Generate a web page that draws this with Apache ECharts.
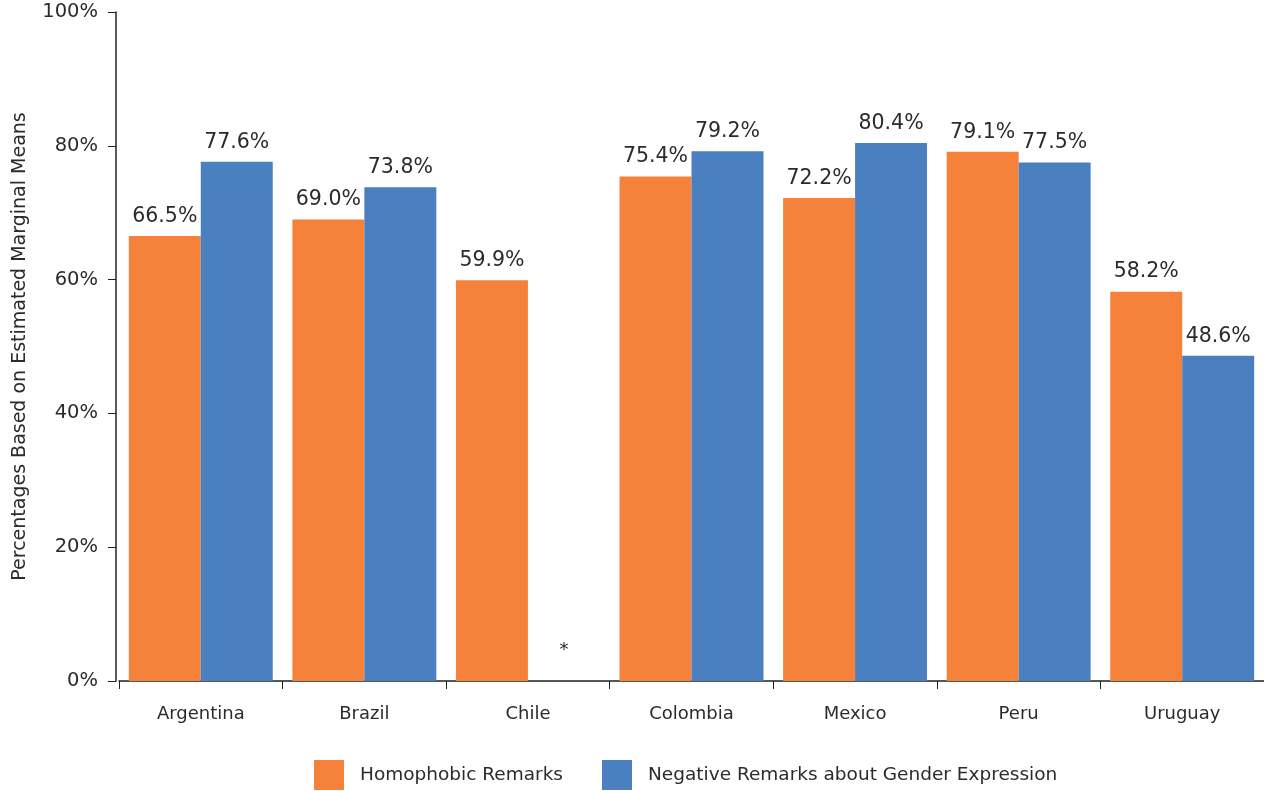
<!DOCTYPE html>
<html>
<head>
<meta charset="utf-8">
<script src="https://cdn.jsdelivr.net/npm/echarts@6/dist/echarts.min.js"></script>
<style>html,body{margin:0;padding:0;background:#fff;}#c{width:1264px;height:791px;}</style>
</head>
<body>
<div id="c"></div>
<script>
const categories = ['Argentina', 'Brazil', 'Chile', 'Colombia', 'Mexico', 'Peru', 'Uruguay'];
const homophobic = [66.5, 69.0, 59.9, 75.4, 72.2, 79.1, 58.2];
const genderExpr = [77.6, 73.8, null, 79.2, 80.4, 77.5, 48.6];
const seriesNames = ['Homophobic Remarks', 'Negative Remarks about Gender Expression'];
const yTicks = [0, 20, 40, 60, 80, 100];

const FONT = 'DejaVu Sans';
const TXT = '#2b2b2b';

const chart = echarts.init(document.getElementById('c'), null, {renderer: 'canvas'});
const lbl = {
  show: true, position: 'top', distance: 9,
  fontFamily: FONT, fontSize: 20.5, color: TXT,
  formatter: p => p.value.toFixed(1) + '%'
};
chart.setOption({
  animation: false,
  textStyle: {fontFamily: FONT},
  grid: {left: 119, right: -1, top: 12, bottom: 110, containLabel: false},
  legend: {
    top: 755, left: 309,
    itemWidth: 30, itemHeight: 30, itemGap: 39,
    icon: 'rect',
    textStyle: {fontFamily: FONT, fontSize: 18.5, color: TXT, padding: [0, 0, 0, 11]},
    data: seriesNames
  },
  xAxis: {
    type: 'category',
    data: categories,
    axisLine: {lineStyle: {color: '#222', width: 1.5}},
    axisTick: {show: true, alignWithLabel: false, length: 8, lineStyle: {color: '#222'}},
    axisLabel: {fontFamily: FONT, fontSize: 18, color: TXT, margin: 24}
  },
  yAxis: {
    type: 'value', min: 0, max: 100, interval: 20, offset: 3,
    name: 'Percentages Based on Estimated Marginal Means',
    nameLocation: 'middle', nameGap: 86,
    nameTextStyle: {fontFamily: FONT, fontSize: 19, color: TXT},
    axisLine: {show: true, lineStyle: {color: '#222', width: 1.5}},
    axisTick: {show: true, length: 8, lineStyle: {color: '#222'}},
    splitLine: {show: false},
    axisLabel: {fontFamily: FONT, fontSize: 19.5, color: TXT, margin: 18,
      formatter: v => yTicks.includes(v) ? v + '%' : ''}
  },
  series: [
    {
      name: seriesNames[0], type: 'bar', barGap: '0%', barCategoryGap: '12%',
      itemStyle: {color: '#F5813B'},
      label: lbl,
      data: homophobic
    },
    {
      name: seriesNames[1], type: 'bar', barGap: '0%', barCategoryGap: '12%',
      itemStyle: {color: '#4A7FC0'},
      label: lbl,
      data: genderExpr.map(v => v === null
        ? {value: 0, label: {formatter: '*', distance: 22, fontSize: 18}}
        : v)
    }
  ]
});
</script>
</body>
</html>
